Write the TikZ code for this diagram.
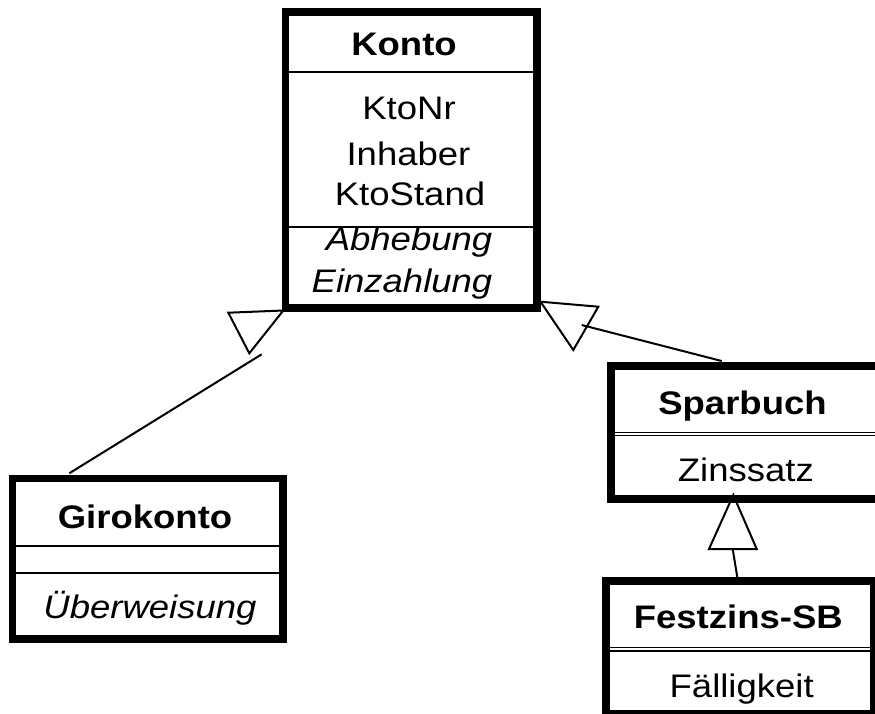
\documentclass[tikz,border=0pt]{standalone}
\usepackage{fontspec}
\setmainfont{Liberation Sans}[FakeStretch=1.12]
\newcommand\umlsize{\fontsize{32.6}{39}\selectfont}
\tikzset{
  classbox/.style={draw=black, line width=7.5pt, inner sep=0pt, outer sep=0pt},
  umltext/.style={anchor=base, inner sep=0pt, font=\umlsize},
  umlname/.style={umltext, font=\umlsize\bfseries},
  umlop/.style={umltext, font=\umlsize\itshape},
  compart/.style={line width=2pt},
  dblcompart/.style={line width=1.2pt},
  gen/.style={line width=2pt},
  genhead/.style={line width=2pt, line join=miter},
}
\begin{document}
\begin{tikzpicture}[x=1pt,y=-1pt]
\useasboundingbox (0,0) rectangle (875,713);
\fill[white] (0,0) rectangle (875,713);
\clip (0,0) rectangle (875,713);

% class boxes
\node[classbox, minimum width=251.7pt, minimum height=295.8pt] (konto) at (411.35,160.0) {};
\node[classbox, minimum width=270.5pt, minimum height=160.5pt] (giro) at (147.75,558.75) {};
\node[classbox, minimum width=269pt, minimum height=133pt] (spar) at (745.5,432.5) {};
\node[classbox, minimum width=268pt, minimum height=133pt] (fest) at (740,647.5) {};

% compartment lines
\draw[compart] (konto.west |- 0,71.7) -- (konto.east |- 0,71.7);
\draw[compart] (konto.west |- 0,226.7) -- (konto.east |- 0,226.7);
\draw[compart] (giro.west |- 0,546) -- (giro.east |- 0,546);
\draw[compart] (giro.west |- 0,572.7) -- (giro.east |- 0,572.7);
\draw[dblcompart] (spar.west |- 0,432.4) -- (spar.east |- 0,432.4);
\draw[dblcompart] (spar.west |- 0,435.8) -- (spar.east |- 0,435.8);
\draw[dblcompart] (fest.west |- 0,647.3) -- (fest.east |- 0,647.3);
\draw[dblcompart] (fest.west |- 0,650.9) -- (fest.east |- 0,650.9);

% class texts
\node[umlname] (kontoName) at (404,55) {Konto};
\node[umltext] (ktoNr) at (409,119) {KtoNr};
\node[umltext] (inhaber) at (408.5,165) {Inhaber};
\node[umltext] (ktoStand) at (410,205) {KtoStand};
\node[umlop] (abhebung) at (409,250) {Abhebung};
\node[umlop] (einzahlung) at (402,292) {Einzahlung};

\node[umlname] (giroName) at (145,528) {Girokonto};
\node[umlop] (ueberweisung) at (150,618) {Überweisung};

\node[umlname] (sparName) at (742.5,414) {Sparbuch};
\node[umltext] (zinssatz) at (745.8,481) {Zinssatz};

\node[umlname] (festName) at (738.3,628) {Festzins-SB};
\node[umltext] (faelligkeit) at (741.7,697) {Fälligkeit};

% generalisation: Girokonto -> Konto
\coordinate (giroTail) at (69.3,473.3);
\coordinate (giroEnd) at (261.7,354.3);
\coordinate (giroTip) at (283.3,310.5);
\coordinate (giroB1) at (228.3,312.7);
\coordinate (giroB2) at (249.3,353.3);
\draw[gen] (giroTail) -- (giroEnd);
\draw[genhead] (giroTip) -- (giroB1) -- (giroB2) -- cycle;

% generalisation: Sparbuch -> Konto
\coordinate (sparTail) at (721.7,361);
\coordinate (sparEnd) at (581.7,325);
\coordinate (sparTip) at (540.5,301.7);
\coordinate (sparB1) at (598.3,306.7);
\coordinate (sparB2) at (573.3,350);
\draw[gen] (sparTail) -- (sparEnd);
\draw[genhead] (sparTip) -- (sparB1) -- (sparB2) -- cycle;

% generalisation: Festzins-SB -> Sparbuch
\coordinate (festTail) at (737.3,577.3);
\coordinate (festEnd) at (732.7,549);
\coordinate (festTip) at (733.3,495);
\coordinate (festB1) at (709,549);
\coordinate (festB2) at (756.7,549);
\draw[gen] (festTail) -- (festEnd);
\draw[genhead] (festTip) -- (festB1) -- (festB2) -- cycle;
\end{tikzpicture}
\end{document}
